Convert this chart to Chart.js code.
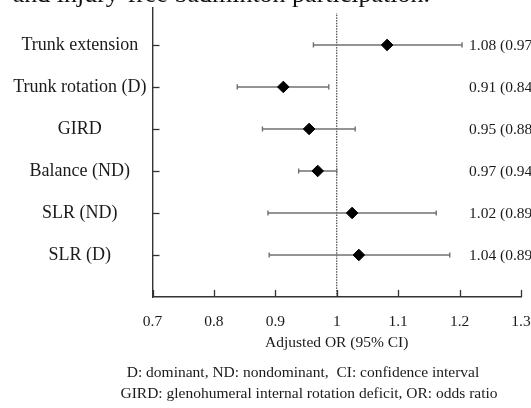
<!DOCTYPE html>
<html>
<head>
<meta charset="utf-8">
<script src="https://cdn.jsdelivr.net/npm/chart.js@4"></script>
<style>
  html, body { margin: 0; padding: 0; background: #fff; }
  #wrap { width: 531px; height: 408px; overflow: hidden; }
</style>
</head>
<body>
<div id="wrap"><canvas id="c" width="531" height="408"></canvas></div>
<script>
// ---- data (top to bottom) ----
const categories = ['Trunk extension', 'Trunk rotation (D)', 'GIRD', 'Balance (ND)', 'SLR (ND)', 'SLR (D)'];
const orValues   = [1.082, 0.913, 0.955, 0.969, 1.025, 1.036];
const ciLow      = [0.962, 0.838, 0.879, 0.938, 0.888, 0.890];
const ciHigh     = [1.204, 0.987, 1.030, 1.000, 1.162, 1.184];
const valueLabels = ['1.08 (0.97\u20131.20)', '0.91 (0.84\u20130.99)', '0.95 (0.88\u20131.03)',
                     '0.97 (0.94\u20131.00)', '1.02 (0.89\u20131.16)', '1.04 (0.89\u20131.18)'];
const xTicks = [0.7, 0.8, 0.9, 1.0, 1.1, 1.2, 1.3];
const refLine = [{x: 1, y: 0}, {x: 1, y: 6.76}];
const titleText = 'and injury-free badminton participation.';
const footnotes = ['D: dominant, ND: nondominant,  CI: confidence interval',
                   'GIRD: glenohumeral internal rotation deficit, OR: odds ratio'];
const xTitle = 'Adjusted OR (95% CI)';

const rowPos = categories.map((_, i) => categories.length - i); // 6..1
const SERIF = '"Liberation Serif", "Times New Roman", serif';

const datasets = [];
datasets.push({
  label: 'OR',
  data: orValues.map((v, i) => ({x: v, y: rowPos[i]})),
  showLine: false,
  pointStyle: 'rectRot',
  pointRadius: 5.8,
  pointBackgroundColor: '#000',
  pointBorderColor: '#000',
  pointBorderWidth: 1,
  order: 0
});
categories.forEach((c, i) => {
  datasets.push({
    label: c,
    data: [{x: ciLow[i], y: rowPos[i]}, {x: ciHigh[i], y: rowPos[i]}],
    showLine: true,
    borderColor: '#707070',
    borderWidth: 1.6,
    pointStyle: 'line',
    rotation: 90,
    pointRadius: 2.6,
    pointBorderColor: '#707070',
    pointBorderWidth: 1.4,
    order: 1
  });
});
datasets.push({
  label: 'ref',
  data: refLine,
  showLine: true,
  borderColor: '#222',
  borderWidth: 1,
  borderDash: [1.5, 1.2],
  pointRadius: 0,
  order: 2
});

const decorPlugin = {
  id: 'decor',
  afterDraw(chart) {
    const ctx = chart.ctx;
    const xs = chart.scales.x, ys = chart.scales.y;
    const area = chart.chartArea;
    ctx.save();
    // inward tick marks
    ctx.strokeStyle = '#333';
    ctx.lineWidth = 1.3;
    xTicks.forEach(v => {
      const px = Math.round(xs.getPixelForValue(v)) + 0.5;
      ctx.beginPath();
      ctx.moveTo(px, area.bottom);
      ctx.lineTo(px, area.bottom - 7);
      ctx.stroke();
    });
    rowPos.forEach(v => {
      const py = Math.round(ys.getPixelForValue(v)) + 0.5;
      ctx.beginPath();
      ctx.moveTo(area.left, py);
      ctx.lineTo(area.left + 7, py);
      ctx.stroke();
    });
    // value labels
    ctx.fillStyle = '#1a1a1a';
    ctx.font = '15.5px ' + SERIF;
    ctx.textAlign = 'left';
    ctx.textBaseline = 'middle';
    valueLabels.forEach((t, i) => {
      ctx.fillText(t, area.right - 52, ys.getPixelForValue(rowPos[i]) + 1);
    });
    // cropped title at top
    ctx.fillStyle = '#111';
    ctx.font = '26px ' + SERIF;
    ctx.textAlign = 'right';
    ctx.textBaseline = 'alphabetic';
    ctx.fillText(titleText, 430, 2);
    // footnotes
    ctx.fillStyle = '#1a1a1a';
    ctx.font = '15.5px ' + SERIF;
    ctx.textAlign = 'center';
    ctx.textBaseline = 'middle';
    ctx.fillText(footnotes[0], 303, 373);
    ctx.fillText(footnotes[1], 309, 394);
    ctx.restore();
  }
};

function noPad(s) { s.paddingTop = 0; s.paddingBottom = 0; s.paddingLeft = 0; s.paddingRight = 0; }

new Chart(document.getElementById('c'), {
  type: 'scatter',
  data: { datasets },
  options: {
    responsive: false,
    animation: false,
    devicePixelRatio: 1,
    layout: { padding: { left: 0, right: 10, top: 8, bottom: 55.6 } },
    plugins: { legend: { display: false }, tooltip: { enabled: false }, title: { display: false } },
    scales: {
      x: {
        type: 'linear',
        min: 0.7, max: 1.3,
        afterBuildTicks: s => { s.ticks = xTicks.map(v => ({value: v})); },
        ticks: {
          padding: 16,
          color: '#1a1a1a',
          font: { family: SERIF, size: 15.5 },
          maxRotation: 0,
          autoSkip: false,
          callback: v => String(Number(v.toFixed(1)))
        },
        grid: { display: false, drawTicks: false },
        border: { display: true, color: '#333', width: 1.4 },
        title: {
          display: true, text: xTitle, color: '#1a1a1a',
          font: { family: SERIF, size: 15.5 },
          padding: { top: 4, bottom: 0 }
        },
        afterFit: s => { s.height = 55.4; noPad(s); }
      },
      y: {
        type: 'linear',
        min: 0, max: 6.88,
        afterBuildTicks: s => { s.ticks = rowPos.map(v => ({value: v})); },
        ticks: {
          padding: 6,
          crossAlign: 'center',
          color: '#1a1a1a',
          font: { family: SERIF, size: 18 },
          autoSkip: false,
          callback: v => categories[categories.length - v]
        },
        grid: { display: false, drawTicks: false },
        border: { display: true, color: '#333', width: 1.4 },
        afterFit: s => { s.width = 152.5; noPad(s); }
      }
    }
  },
  plugins: [decorPlugin]
});
</script>
</body>
</html>
